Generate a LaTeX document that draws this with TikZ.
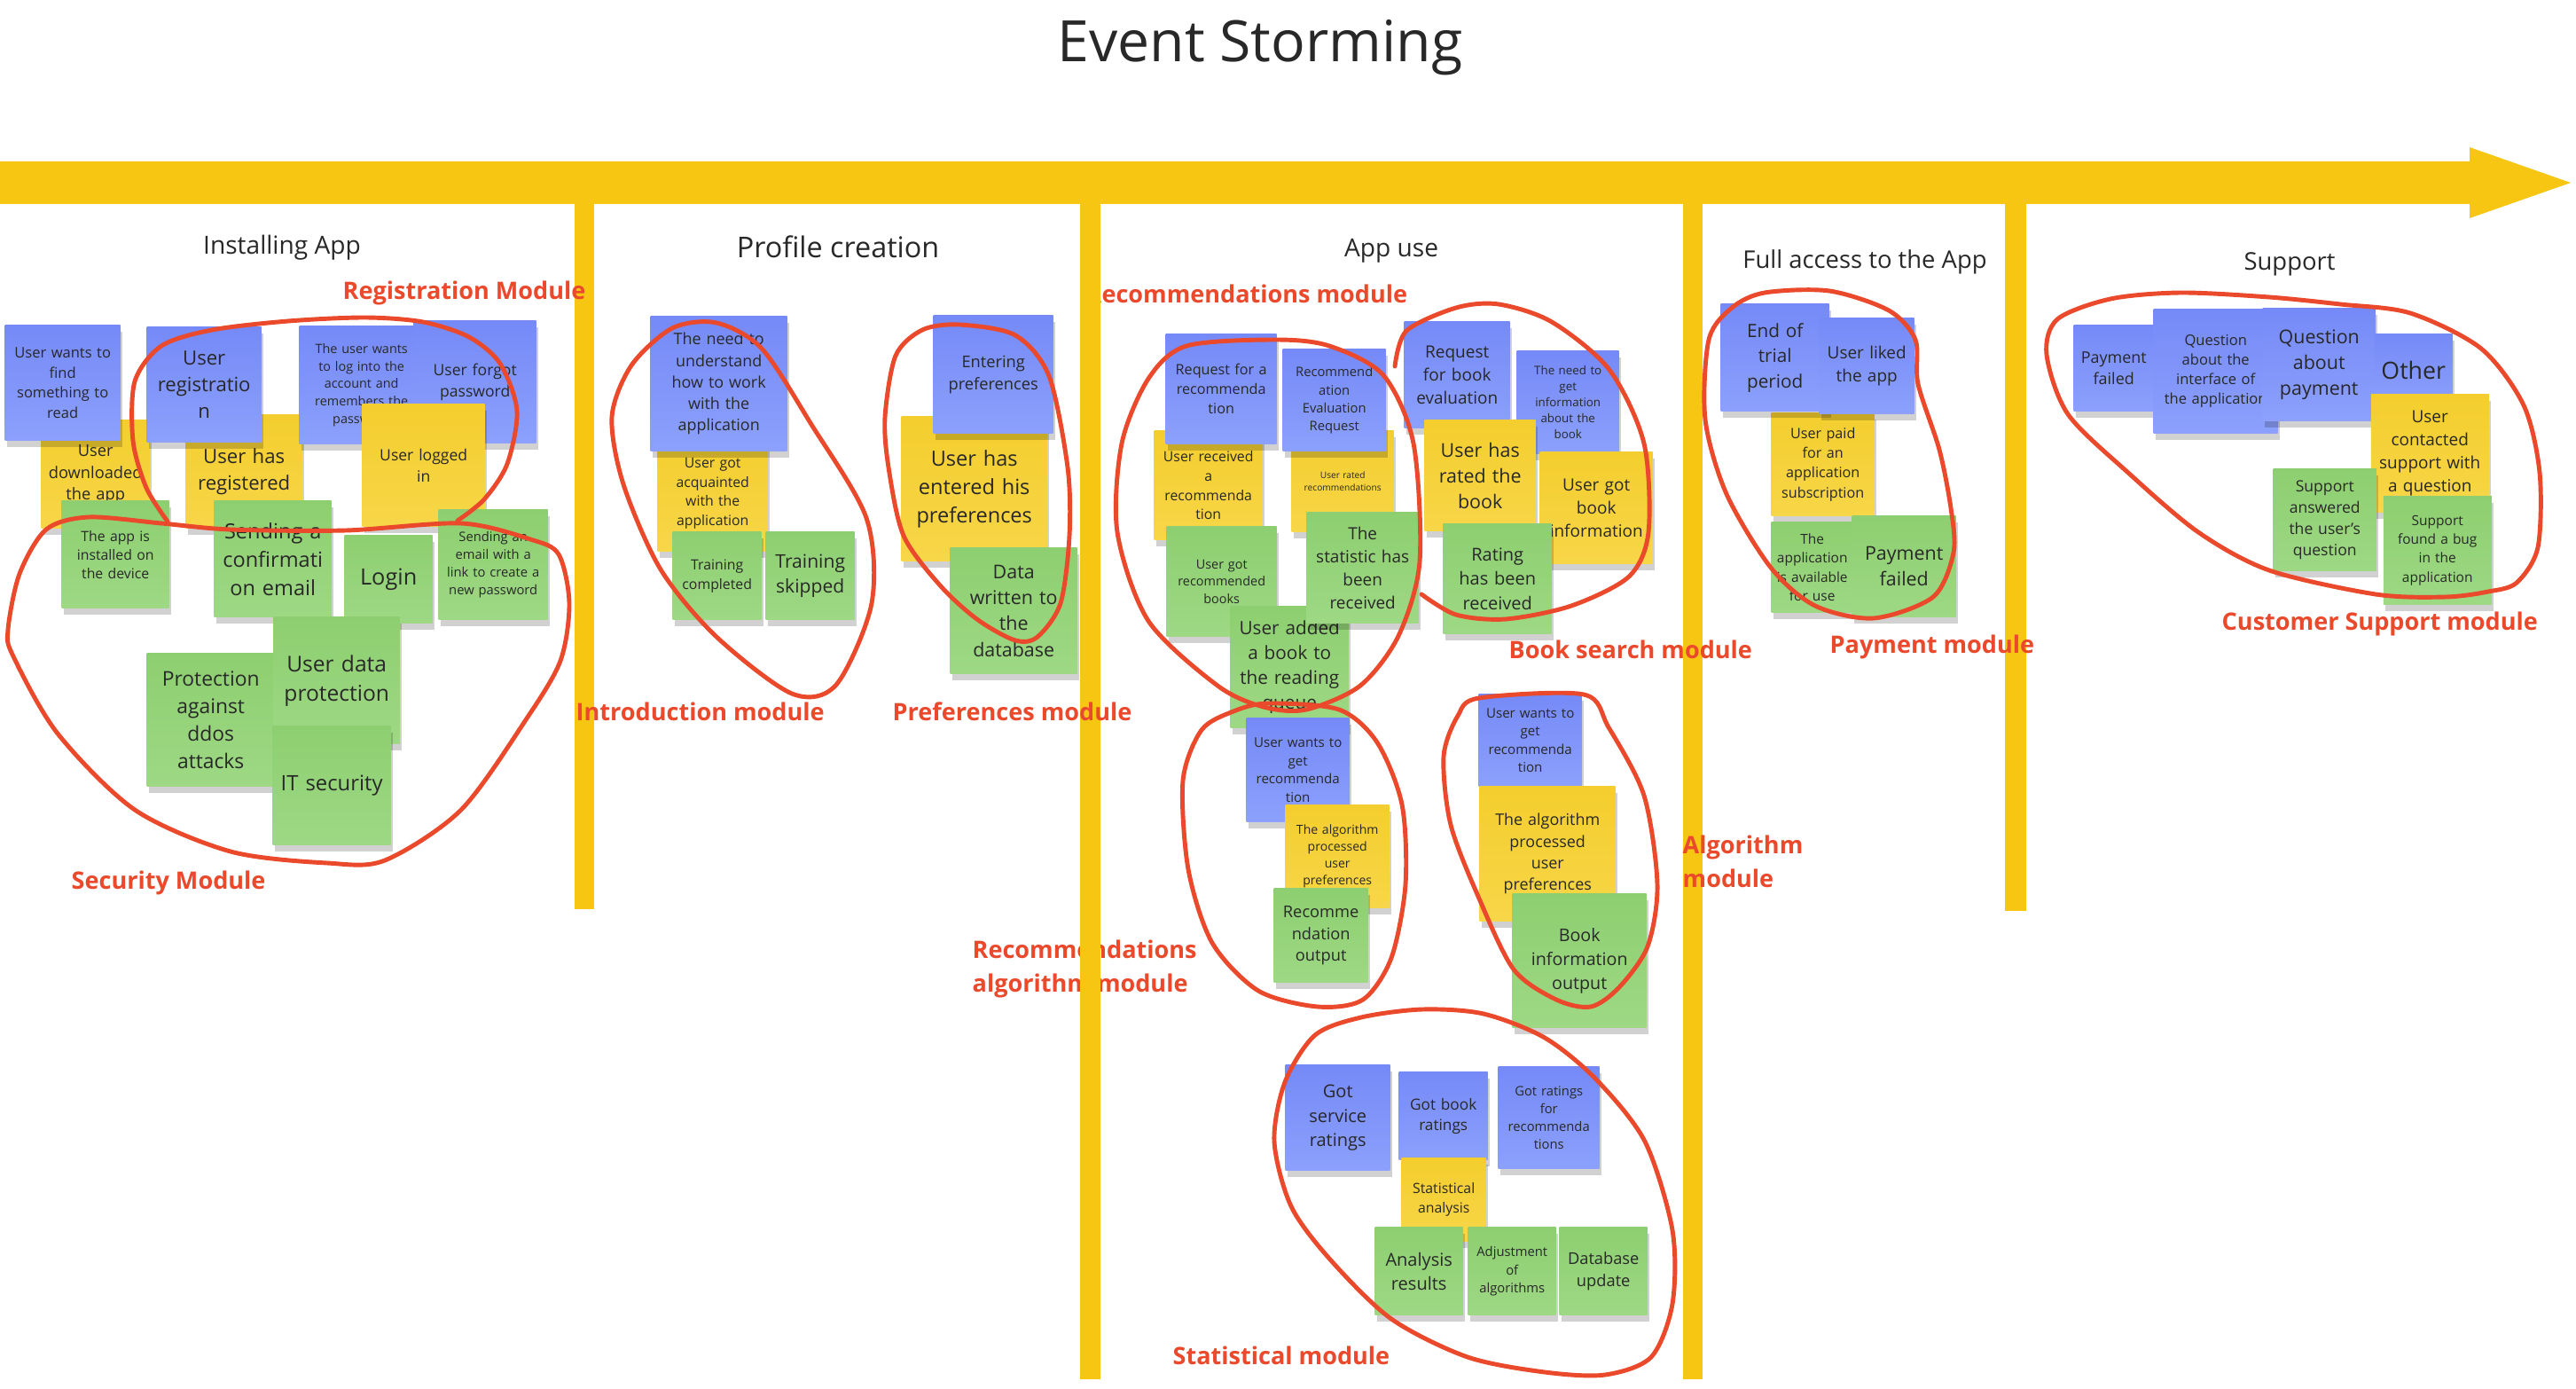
\documentclass[tikz,border=0pt]{standalone}
\usepackage{fontspec}
\setmainfont{Open Sans}
\usetikzlibrary{shadows}

\definecolor{barcol}{RGB}{247,198,19}
\definecolor{redline}{RGB}{234,73,43}
\definecolor{ink}{RGB}{40,40,40}
\definecolor{blueA}{RGB}{117,138,247}
\definecolor{blueB}{RGB}{140,160,252}
\definecolor{yelA}{RGB}{244,206,46}
\definecolor{yelB}{RGB}{247,214,72}
\definecolor{grnA}{RGB}{141,207,112}
\definecolor{grnB}{RGB}{158,216,132}

\tikzset{
  sticky/.style={rectangle, inner sep=0pt, anchor=north west, align=center, text=ink,
    drop shadow={shadow xshift=0.2mm, shadow yshift=-0.7mm, opacity=0.18, fill=black}},
  bnote/.style={sticky, top color=blueA, bottom color=blueB},
  ynote/.style={sticky, top color=yelA, bottom color=yelB},
  gnote/.style={sticky, top color=grnA, bottom color=grnB},
  wh/.style 2 args={minimum width=#1cm, text width=#1cm, minimum height=#2cm},
  fs/.style 2 args={font=\fontsize{#1}{#2}\selectfont},
  phase/.style={anchor=base, inner sep=0pt, text=ink},
  module/.style={anchor=base west, inner sep=0pt, align=left, text=redline,
    font=\bfseries\fontsize{7.7}{10.6}\selectfont},
  ring/.style={draw=redline, line width=1.4pt, line cap=round, line join=round},
}

\begin{document}
\begin{tikzpicture}
    % 背景と範囲
    \fill[white] (0,0) rectangle (29.05,-15.65);
    \useasboundingbox (0,0) rectangle (29.05,-15.65);

    % 柱の下に隠れるモジュール名
    \node[module] (lbrecmod) at (12.24,-3.42) {Recommendations module};
    \node[module] (lbrecalg) at (10.96,-11.18) {Recommendations\\algorithm module};

    % タイムラインの矢印と区切りの柱
    \fill[barcol] (0,-1.82) -- (27.85,-1.82) -- (27.85,-1.66) -- (28.99,-2.06)
        -- (27.85,-2.46) -- (27.85,-2.30) -- (0,-2.30) -- cycle;
    \fill[barcol] (6.48,-2.30) rectangle (6.70,-10.25);
    \fill[barcol] (12.18,-2.30) rectangle (12.41,-15.55);
    \fill[barcol] (18.98,-2.30) rectangle (19.20,-15.55);
    \fill[barcol] (22.61,-2.30) rectangle (22.85,-10.27);

    % タイトルとフェーズ名
    \node[phase, font=\fontsize{18.3}{22}\selectfont] (title) at (14.21,-0.70) {Event Storming};
    \node[phase, font=\fontsize{8}{10}\selectfont] (phinstall) at (3.18,-2.87) {Installing App};
    \node[phase, font=\fontsize{9.2}{11}\selectfont] (phprofile) at (9.45,-2.91) {Profile creation};
    \node[phase, font=\fontsize{8}{10}\selectfont] (phuse) at (15.69,-2.90) {App use};
    \node[phase, font=\fontsize{7.8}{9.5}\selectfont] (phfull) at (21.03,-3.03) {Full access to the App};
    \node[phase, font=\fontsize{7.8}{9.5}\selectfont] (phsupport) at (25.82,-3.05) {Support};

    % 付箋 (Installing App)
    \node[ynote, wh={1.22}{1.22}, fs={5.2}{7.0}] (downloaded) at (0.46,-4.73) {User\\downloaded\\the app};
    \node[ynote, wh={1.31}{1.28}, fs={6.3}{8.5}] (registered) at (2.09,-4.67) {User has\\registered};
    \node[bnote, wh={1.30}{1.30}, fs={4.7}{6.5}] (findread) at (0.05,-3.66) {User wants to\\find\\something to\\read};
    \node[bnote, wh={1.29}{1.30}, fs={6.3}{8.5}] (registration) at (1.65,-3.68) {User\\registratio\\n};
    \node[bnote, wh={1.40}{1.33}, fs={4.1}{5.6}] (wantslogin) at (3.37,-3.67) {The user wants\\to log into the\\account and\\remembers the\\password};
    \node[bnote, wh={1.38}{1.38}, fs={5.0}{6.8}] (forgot) at (4.66,-3.61) {User forgot\\password};
    \node[ynote, wh={1.38}{1.38}, fs={5.0}{6.8}] (loggedin) at (4.08,-4.55) {User logged\\in};
    \node[gnote, wh={1.21}{1.21}, fs={4.5}{6.0}] (installed) at (0.69,-5.64) {The app is\\installed on\\the device};
    \node[gnote, wh={1.32}{1.31}, fs={6.7}{9.1}] (confirm) at (2.41,-5.64) {Sending a\\confirmati\\on email};
    \node[gnote, wh={0.99}{0.99}, fs={7.2}{9.8}] (login) at (3.88,-6.03) {Login};
    \node[gnote, wh={1.23}{1.24}, fs={4.2}{5.7}] (resetmail) at (4.94,-5.74) {Sending an\\email with a\\link to create a\\new password};
    \node[gnote, wh={1.44}{1.50}, fs={6.5}{8.8}] (ddos) at (1.65,-7.36) {Protection\\against\\ddos\\attacks};
    \node[gnote, wh={1.42}{1.43}, fs={7.0}{9.4}] (dataprot) at (3.08,-6.95) {User data\\protection};
    \node[gnote, wh={1.33}{1.34}, fs={6.8}{9.2}] (itsec) at (3.07,-8.18) {IT security};

    % 付箋 (Profile creation)
    \node[ynote, wh={1.24}{1.31}, fs={4.5}{6.2}] (acquainted) at (7.41,-4.90) {User got\\acquainted\\with the\\application};
    \node[bnote, wh={1.54}{1.52}, fs={5.1}{6.9}] (needhow) at (7.33,-3.56) {The need to\\understand\\how to work\\with the\\application};
    \node[gnote, wh={1.00}{0.99}, fs={4.5}{6.2}] (traindone) at (7.58,-5.99) {Training\\completed};
    \node[gnote, wh={1.00}{0.99}, fs={6.0}{8.2}] (trainskip) at (8.63,-5.99) {Training\\skipped};
    \node[ynote, wh={1.64}{1.63}, fs={6.7}{9.1}] (prefsdone) at (10.16,-4.69) {User has\\entered his\\preferences};
    \node[bnote, wh={1.35}{1.33}, fs={5.2}{7.1}] (prefsin) at (10.52,-3.55) {Entering\\preferences};
    \node[gnote, wh={1.43}{1.42}, fs={6.1}{8.3}] (dbwrite) at (10.71,-6.17) {Data\\written to\\the\\database};

    % 付箋 (App use)
    \node[ynote, wh={1.22}{1.23}, fs={4.5}{6.2}] (recgot) at (13.01,-4.85) {User received\\a\\recommenda\\tion};
    \node[ynote, wh={1.15}{1.14}, fs={2.9}{4.0}] (recrated) at (14.56,-4.85) {User rated\\recommendations};
    \node[bnote, wh={1.25}{1.24}, fs={4.6}{6.3}] (recreq) at (13.14,-3.76) {Request for a\\recommenda\\tion};
    \node[bnote, wh={1.16}{1.15}, fs={4.2}{5.7}] (receval) at (14.46,-3.93) {Recommend\\ation\\Evaluation\\Request};
    \node[gnote, wh={1.24}{1.24}, fs={4.1}{5.6}] (recbooks) at (13.15,-5.93) {User got\\recommended\\books};
    \node[gnote, wh={1.33}{1.37}, fs={5.9}{8.0}] (queue) at (13.87,-6.83) {User added\\a book to\\the reading\\queue};
    \node[gnote, wh={1.26}{1.25}, fs={5.4}{7.4}] (statrecv) at (14.73,-5.77) {The\\statistic has\\been\\received};
    \node[bnote, wh={1.19}{1.20}, fs={5.4}{7.4}] (bookeval) at (15.83,-3.62) {Request\\for book\\evaluation};
    \node[bnote, wh={1.15}{1.16}, fs={3.8}{5.1}] (bookneed) at (17.10,-3.95) {The need to\\get\\information\\about the\\book};
    \node[ynote, wh={1.25}{1.25}, fs={6.1}{8.3}] (bookrated) at (16.06,-4.73) {User has\\rated the\\book};
    \node[ynote, wh={1.27}{1.26}, fs={5.4}{7.4}] (bookinfo) at (17.36,-5.09) {User got\\book\\information};
    \node[gnote, wh={1.22}{1.24}, fs={5.7}{7.8}] (ratingrecv) at (16.27,-5.90) {Rating\\has been\\received};

    \node[bnote, wh={1.16}{1.17}, fs={4.3}{5.8}] (algwantA) at (14.05,-8.09) {User wants to\\get\\recommenda\\tion};
    \node[ynote, wh={1.17}{1.16}, fs={4.0}{5.4}] (algprocA) at (14.49,-9.07) {The algorithm\\processed\\user\\preferences};
    \node[gnote, wh={1.06}{1.06}, fs={5.2}{7.1}] (recout) at (14.36,-10.01) {Recomme\\ndation\\output};
    \node[bnote, wh={1.16}{1.04}, fs={4.3}{5.8}] (algwantB) at (16.67,-7.82) {User wants to\\get\\recommenda\\tion};
    \node[ynote, wh={1.53}{1.52}, fs={5.1}{6.9}] (algprocB) at (16.68,-8.86) {The algorithm\\processed\\user\\preferences};
    \node[gnote, wh={1.51}{1.51}, fs={5.6}{7.6}] (bookout) at (17.05,-10.07) {Book\\information\\output};

    \node[bnote, wh={1.18}{1.19}, fs={5.7}{7.8}] (servrate) at (14.49,-12.00) {Got\\service\\ratings};
    \node[bnote, wh={1.00}{0.99}, fs={4.9}{6.6}] (bookrate) at (15.77,-12.08) {Got book\\ratings};
    \node[bnote, wh={1.14}{1.15}, fs={4.2}{5.7}] (recrate) at (16.89,-12.02) {Got ratings\\for\\recommenda\\tions};
    \node[ynote, wh={0.95}{0.94}, fs={4.5}{6.2}] (statan) at (15.80,-13.05) {Statistical\\analysis};
    \node[gnote, wh={0.99}{0.99}, fs={5.7}{7.8}] (anres) at (15.50,-13.83) {Analysis\\results};
    \node[gnote, wh={0.99}{0.99}, fs={4.2}{5.8}] (adjalg) at (16.55,-13.83) {Adjustment\\of\\algorithms};
    \node[gnote, wh={0.99}{0.99}, fs={5.2}{7.1}] (dbupd) at (17.58,-13.83) {Database\\update};

    % 付箋 (Full access to the App)
    \node[ynote, wh={1.16}{1.16}, fs={4.6}{6.3}] (paid) at (19.97,-4.65) {User paid\\for an\\application\\subscription};
    \node[bnote, wh={1.22}{1.21}, fs={5.9}{8.1}] (trialend) at (19.40,-3.42) {End of\\trial\\period};
    \node[bnote, wh={1.07}{1.08}, fs={5.4}{7.4}] (liked) at (20.51,-3.58) {User liked\\the app};
    \node[gnote, wh={0.92}{1.02}, fs={4.4}{6.0}] (available) at (19.97,-5.88) {The\\application\\is available\\for use};
    \node[gnote, wh={1.17}{1.14}, fs={6.1}{8.3}] (payfail) at (20.88,-5.81) {Payment\\failed};

    % 付箋 (Support)
    \node[bnote, wh={0.90}{0.97}, fs={5.1}{6.9}] (qpayfail) at (23.38,-3.66) {Payment\\failed};
    \node[bnote, wh={1.40}{1.40}, fs={4.7}{6.3}] (qiface) at (24.28,-3.48) {Question\\about the\\interface of\\the application};
    \node[bnote, wh={1.27}{1.27}, fs={6.1}{8.3}] (qpay) at (25.51,-3.47) {Question\\about\\payment};
    \node[bnote, wh={0.88}{0.82}, fs={7.6}{10}] (qother) at (26.77,-3.76) {Other};
    \node[ynote, wh={1.33}{1.33}, fs={5.4}{7.4}] (contacted) at (26.73,-4.44) {User\\contacted\\support with\\a question};
    \node[gnote, wh={1.16}{1.15}, fs={5.0}{6.8}] (answered) at (25.63,-5.28) {Support\\answered\\the user's\\question};
    \node[gnote, wh={1.22}{1.22}, fs={4.4}{6.0}] (bugfound) at (26.87,-5.59) {Support\\found a bug\\in the\\application};

    % モジュールを囲む線
    \draw[ring] plot[smooth] coordinates {(1.89,-5.88) (1.65,-5.50) (1.50,-4.97) (1.52,-4.30) (1.82,-3.90) (2.39,-3.72) (3.25,-3.62) (4.12,-3.58) (4.77,-3.63) (5.29,-3.80) (5.64,-4.10) (5.83,-4.63) (5.72,-5.23) (5.46,-5.63) (5.16,-5.87)};
    \draw[ring] plot[smooth cycle] coordinates {(0.09,-7.10) (0.22,-6.47) (0.52,-5.97) (1.00,-5.83) (1.82,-5.90) (2.60,-5.97) (3.90,-5.98) (5.20,-5.90) (5.98,-6.08) (6.30,-6.25) (6.42,-6.80) (6.32,-7.45) (5.94,-8.10) (5.20,-9.13) (4.34,-9.70) (3.69,-9.73) (2.60,-9.60) (1.52,-9.13) (0.65,-8.27) (0.15,-7.40)};
    \draw[ring] plot[smooth cycle] coordinates {(8.59,-3.93) (9.14,-4.77) (9.77,-5.84) (9.83,-6.80) (9.43,-7.72) (8.93,-7.82) (8.08,-7.18) (7.45,-6.42) (7.03,-5.46) (6.90,-4.70) (7.12,-4.12) (7.58,-3.70) (8.08,-3.64)};
    \draw[ring] plot[smooth cycle] coordinates {(10.40,-3.72) (10.82,-3.66) (11.45,-3.78) (11.83,-4.24) (12.04,-5.27) (12.06,-6.04) (11.96,-6.80) (11.70,-7.18) (11.45,-7.22) (11.03,-6.99) (10.61,-6.61) (10.19,-6.04) (10.02,-5.27) (9.98,-4.70) (10.10,-4.01)};
    \draw[ring] plot[smooth cycle] coordinates {(13.38,-3.90) (14.38,-3.83) (14.99,-3.90) (15.60,-4.23) (15.94,-5.00) (16.01,-6.33) (15.77,-7.17) (15.34,-7.73) (14.73,-8.00) (14.25,-7.97) (13.73,-7.73) (12.95,-7.00) (12.60,-6.00) (12.65,-5.00) (12.95,-4.27)};
    \draw[ring] plot[smooth] coordinates {(15.73,-4.13) (15.86,-3.73) (16.42,-3.47) (16.90,-3.43) (17.50,-3.63) (18.15,-4.17) (18.54,-5.00) (18.59,-6.00) (18.37,-6.50) (17.72,-6.83) (16.98,-6.98) (16.42,-6.93) (16.03,-6.70)};
    \draw[ring] plot[smooth cycle] coordinates {(14.30,-7.93) (15.10,-8.00) (15.53,-8.37) (15.81,-9.07) (15.85,-9.97) (15.69,-10.80) (15.37,-11.27) (14.86,-11.35) (14.19,-11.17) (13.67,-10.63) (13.40,-9.80) (13.34,-8.80) (13.55,-8.23) (13.91,-8.02)};
    \draw[ring] plot[smooth cycle] coordinates {(16.68,-7.87) (17.86,-7.83) (18.14,-8.20) (18.54,-8.97) (18.69,-9.97) (18.58,-10.67) (18.26,-11.13) (17.94,-11.35) (17.55,-11.27) (17.07,-10.93) (16.68,-10.13) (16.36,-9.30) (16.28,-8.53) (16.44,-8.07)};
    \draw[ring] plot[smooth cycle] coordinates {(16.04,-11.38) (16.73,-11.43) (17.42,-11.70) (18.00,-12.17) (18.55,-12.87) (18.86,-13.87) (18.86,-14.70) (18.62,-15.30) (18.10,-15.50) (17.42,-15.47) (16.55,-15.30) (15.69,-14.87) (15.00,-14.20) (14.56,-13.60) (14.37,-12.87) (14.49,-12.20) (14.83,-11.67) (15.35,-11.47)};
    \draw[ring] plot[smooth cycle] coordinates {(19.90,-3.30) (20.63,-3.28) (21.30,-3.50) (21.60,-3.83) (21.63,-4.33) (21.87,-5.07) (22.00,-5.73) (22.03,-6.23) (21.80,-6.73) (21.13,-6.97) (20.47,-6.83) (19.97,-6.40) (19.47,-5.57) (19.23,-4.73) (19.27,-3.83) (19.53,-3.47)};
    \draw[ring] plot[smooth cycle] coordinates {(23.20,-3.60) (23.80,-3.37) (24.59,-3.30) (25.59,-3.35) (26.39,-3.43) (27.18,-3.53) (27.98,-3.93) (28.46,-4.57) (28.64,-5.33) (28.62,-6.17) (28.38,-6.57) (28.06,-6.67) (27.58,-6.73) (26.79,-6.70) (25.59,-6.43) (24.79,-6.00) (24.00,-5.33) (23.32,-4.67) (23.08,-4.00)};

    % モジュール名
    \node[module] (lbreg) at (3.86,-3.38) {Registration Module};
    \node[module] (lbsec) at (0.80,-10.02) {Security Module};
    \node[module] (lbintro) at (6.49,-8.12) {Introduction module};
    \node[module] (lbpref) at (10.06,-8.12) {Preferences module};
    \node[module] (lbbook) at (17.01,-7.42) {Book search module};
    \node[module] (lbpay) at (20.63,-7.36) {Payment module};
    \node[module] (lbsupp) at (25.05,-7.10) {Customer Support module};
    \node[module] (lbalgo) at (18.97,-10.00) {Algorithm\\module};
    \node[module] (lbstat) at (13.22,-15.38) {Statistical module};
\end{tikzpicture}
\end{document}
